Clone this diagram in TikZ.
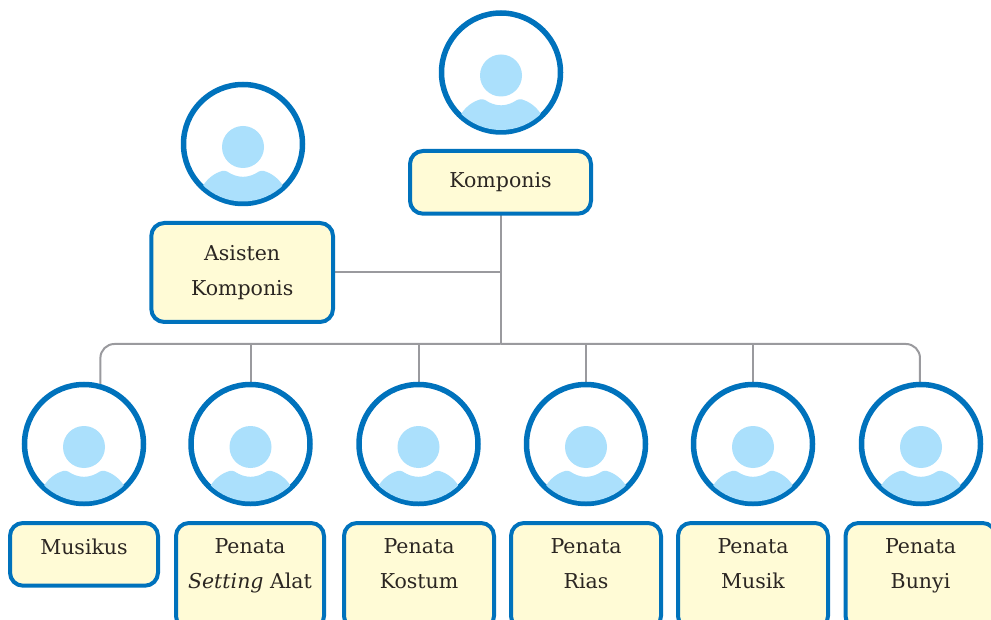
\documentclass[tikz,border=0pt]{standalone}
\usepackage{fontspec}
\usetikzlibrary{backgrounds}
\setmainfont{DejaVu Serif}
\definecolor{bluel}{HTML}{0072BC}
\definecolor{sky}{HTML}{ABE0FC}
\definecolor{cream}{HTML}{FFFBD6}
\definecolor{ink}{HTML}{2B2622}
\definecolor{wire}{HTML}{9A9A9E}
\newcommand\liftup[2]{\raisebox{#1}[0pt][0pt]{\begin{tabular}{@{}c@{}}#2\end{tabular}}}
\tikzset{
  photo/.style={circle,draw=bluel,line width=5.5pt,fill=white,minimum size=119pt,inner sep=0pt,outer sep=0pt},
  rolebox/.style={draw=bluel,line width=4pt,fill=cream,rounded corners=13pt,inner sep=0pt,outer sep=0pt,
    font=\fontsize{20.5}{35}\selectfont,text=ink,align=center,anchor=north west},
  wide/.style={minimum width=150pt,minimum height=106pt},
  link/.style={draw=wire,line width=2pt},
  person/.pic={
    \begin{scope}
      \clip (0,0) circle (57.5);
      \fill[sky] (0,3) circle (21);
      \fill[sky] (-42,60) -- (-39.5,41) .. controls (-35,34) and (-28,29) .. (-21,27)
        .. controls (-17,26.2) and (-15,28) .. (-12,29.8)
        .. controls (-4,33.8) and (4,33.8) .. (12,29.8)
        .. controls (15,28) and (17,26.2) .. (21,27)
        .. controls (28,29) and (35,34) .. (39.5,41) -- (42,60) -- cycle;
    \end{scope}
  }
}
\begin{document}
\begin{tikzpicture}[x=1pt,y=-1pt]
\useasboundingbox (0,0) rectangle (991,620);
\clip (0,0) rectangle (991,620);
\node[photo] (pk) at (501,72.5) {};
\node[photo] (pa) at (243,144) {};
\node[photo] (p1) at (84,444) {};
\node[photo] (p2) at (250.5,444) {};
\node[photo] (p3) at (418.5,444) {};
\node[photo] (p4) at (586,444) {};
\node[photo] (p5) at (753,444) {};
\node[photo] (p6) at (921,444) {};
\foreach \n in {pk,pa,p1,p2,p3,p4,p5,p6} \pic at (\n) {person};
\node[rolebox,minimum width=181pt,minimum height=62.7pt] (bk) at (410,151) {Komponis};
\node[rolebox,minimum width=181.7pt,minimum height=99pt] (ba) at (151.3,223) {Asisten\\Komponis};
\node[rolebox,minimum width=148pt,minimum height=62.7pt] (b1) at (10,523) {\liftup{2pt}{Musikus}};
\node[rolebox,wide,minimum width=148pt] (b2) at (176,523) {\liftup{7pt}{Penata\\\textit{Setting} Alat}};
\node[rolebox,wide] (b3) at (344,523) {\liftup{7pt}{Penata\\Kostum}};
\node[rolebox,wide] (b4) at (511,523) {\liftup{7pt}{Penata\\Rias}};
\node[rolebox,wide] (b5) at (678,523) {\liftup{7pt}{Penata\\Musik}};
\node[rolebox,wide] (b6) at (845.5,523) {\liftup{7pt}{Penata\\Bunyi}};
\coordinate (busmid) at (bk.south |- 0,344);
\coordinate (ajoin) at (bk.south |- ba.east);
\begin{scope}[on background layer]
\draw[link] (bk.south) -- (busmid);
\draw[link] (ba.east) -- (ajoin);
\draw[link,rounded corners=14pt] (p1.74) |- (busmid);
\draw[link,rounded corners=14pt] (p6.91) |- (busmid);
\foreach \n in {p2,p3,p4,p5} \draw[link] (\n.north) -- (\n.north |- busmid);
\end{scope}
\end{tikzpicture}
\end{document}
